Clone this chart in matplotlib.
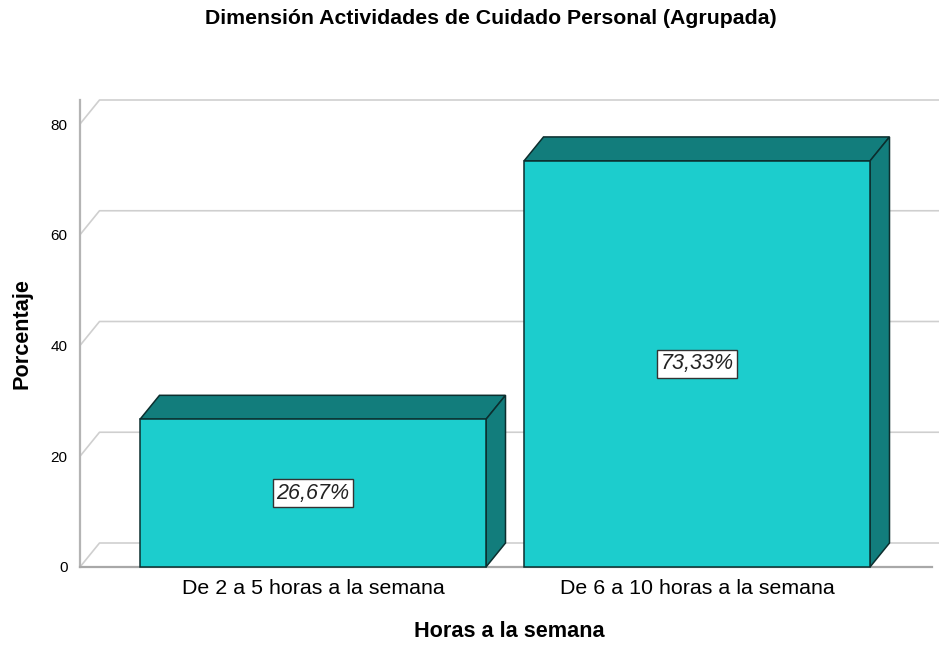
import matplotlib
matplotlib.use("Agg")
import matplotlib.pyplot as plt
from matplotlib.patches import Polygon

plt.rcParams['font.family'] = ['Liberation Sans', 'DejaVu Sans']

categories = ["De 2 a 5 horas a la semana", "De 6 a 10 horas a la semana"]
values = [26.67, 73.33]
value_labels = ["26,67%", "73,33%"]
yticks = [0, 20, 40, 60, 80]

title = "Dimensión Actividades de Cuidado Personal (Agrupada)"
xlabel = "Horas a la semana"
ylabel = "Porcentaje"

front_color = "#1ccdcd"
dark_color = "#127d7c"
edge_color = "#0c2e2e"

W, H = 939, 645
fig = plt.figure(figsize=(W / 100, H / 100), dpi=100)
ax = fig.add_axes([80 / W, 78 / H, 859 / W, 467 / H])

px_per_unit = 443 / 80.0
ymax = 467 / px_per_unit
step = 384.0
xl, xr = (80 - 313) / step, (939 - 313) / step
ax.set_xlim(xl, xr)
ax.set_ylim(0, ymax)

dx = 19.5 / step
dy = 24 / px_per_unit
bw = 346 / step

# walls / gridlines
for t in yticks:
    ax.plot([xl, xl + dx, xr], [t, t + dy, t + dy], color="#cfcfcf", lw=1.2,
            zorder=1, clip_on=False, solid_capstyle='butt')
ax.plot([xl, xl], [0, ymax], color="#b4b4b4", lw=1.6, zorder=2, clip_on=False)
ax.plot([xl, (932 - 313) / step], [0, 0], color="#a8a8a8", lw=1.6, zorder=2, clip_on=False)

for i, v in enumerate(values):
    x0, x1 = i - bw / 2, i + bw / 2
    top = Polygon([(x0, v), (x0 + dx, v + dy), (x1 + dx, v + dy), (x1, v)],
                  closed=True, facecolor=dark_color, edgecolor=edge_color, lw=1.1, zorder=3)
    side = Polygon([(x1, 0), (x1 + dx, dy), (x1 + dx, v + dy), (x1, v)],
                   closed=True, facecolor=dark_color, edgecolor=edge_color, lw=1.1, zorder=3)
    front = Polygon([(x0, 0), (x1, 0), (x1, v), (x0, v)],
                    closed=True, facecolor=front_color, edgecolor=edge_color, lw=1.1, zorder=4)
    for p in (top, side, front):
        p.set_clip_on(False)
        ax.add_patch(p)
    ax.text(i, v / 2, value_labels[i], ha="center", va="center", fontsize=15.5,
            style="italic", color="#222222", zorder=6,
            bbox=dict(boxstyle="square,pad=0.15", facecolor="white",
                      edgecolor="#333333", lw=1.0))

for s in ax.spines.values():
    s.set_visible(False)
ax.set_yticks(yticks)
ax.set_yticklabels([str(t) for t in yticks], fontsize=11)
ax.set_xticks(range(len(categories)))
ax.set_xticklabels(categories, fontsize=15.4)
ax.tick_params(axis="y", length=0, pad=9)
ax.tick_params(axis="x", length=0, pad=9)
ax.set_xlabel(xlabel, fontsize=15.6, fontweight="bold", labelpad=16)
ax.set_ylabel(ylabel, fontsize=15.6, fontweight="bold", labelpad=13)
fig.text(491 / W, 1 - 18 / H, title, ha="center", va="center", fontsize=15.3, fontweight="bold")

fig.savefig("out.png", dpi=100)
